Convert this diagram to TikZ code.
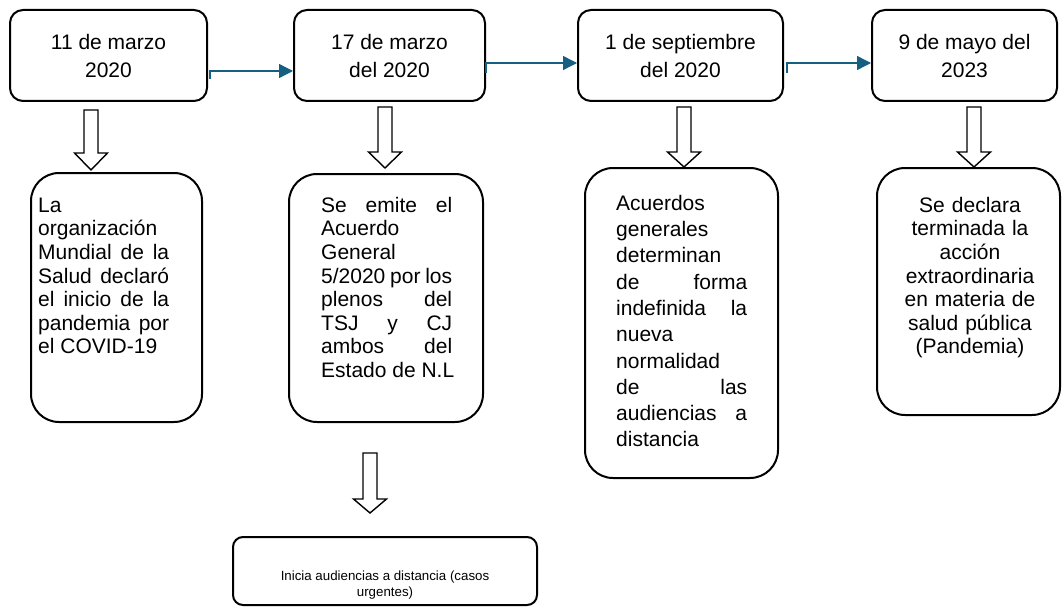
\documentclass[tikz,border=0pt]{standalone}
\usepackage{fontspec}
\setmainfont{Liberation Sans}
\usetikzlibrary{arrows.meta,calc}
\definecolor{linkblue}{HTML}{156082}
\newcommand\jl[1]{\makebox[131pt][s]{\spaceskip=0pt\xspaceskip=0pt\relax #1}}
\newcommand\hollowarrow[4]{\draw[hollow] (#1-7,#2) -- (#1+7,#2) -- (#1+7,#3) -- (#1+16.5,#3) -- (#1,#4) -- (#1-16.5,#3) -- (#1-7,#3) -- cycle;}
\begin{document}
\begin{tikzpicture}[x=1pt,y=-1pt,
  topbox/.style={draw, line width=2pt, rounded corners=13pt, minimum height=91pt, align=center, inner sep=0pt, font=\fontsize{21}{28}\selectfont},
  lowbox/.style={draw, line width=2pt, rounded corners=28pt, inner sep=0pt},
  hollow/.style={draw, line width=1.4pt, fill=white, line join=miter},
  conn/.style={draw=linkblue, line width=1.3pt, -{Triangle[length=14pt,width=14pt]}},
  bodytext/.style={anchor=north west, inner sep=0pt, text width=140pt, align=left, font=\fontsize{21}{23.6}\selectfont, execute at begin node={\spaceskip=0pt\xspaceskip=0pt\relax}}]
\useasboundingbox (0,0) rectangle (1062,607);

% top boxes
\node[topbox, minimum width=197pt] (t1) at (108.5,55.5) {11 de marzo\\2020};
\node[topbox, minimum width=191pt] (t2) at (389.5,55.5) {17 de marzo\\del 2020};
\node[topbox, minimum width=205pt] (t3) at (680.5,55.5) {1 de septiembre\\del 2020};
\node[topbox, minimum width=185pt] (t4) at (964.5,55.5) {9 de mayo del\\2023};

% connectors
\coordinate (s1) at (210,79);
\coordinate (s2) at (486,73);
\coordinate (s3) at (787,73);
\draw[conn] (s1) |- ([yshift=-15.5pt]t2.west);
\draw[conn] (s2) |- ([yshift=-7.5pt]t3.west);
\draw[conn] (s3) |- ([yshift=-7.5pt]t4.west);

% lower boxes
\node[lowbox, minimum width=171pt, minimum height=249pt] (b1) at (116.5,297.5) {};
\node[lowbox, minimum width=194pt, minimum height=248pt] (b2) at (386,298) {};
\node[lowbox, minimum width=193pt, minimum height=310pt] (b3) at (681.5,323) {};
\node[lowbox, minimum width=183pt, minimum height=247pt] (b4) at (968.5,291.5) {};
\node[draw, line width=2pt, rounded corners=10pt, minimum width=304pt, minimum height=68pt, inner sep=0pt] (b5) at (385,571) {};

% hollow arrows
\hollowarrow{91}{110}{153}{170}
\hollowarrow{385}{107}{152}{168}
\hollowarrow{684}{107}{152}{167}
\hollowarrow{974}{107}{152}{167}
\hollowarrow{370}{453}{499}{513}

% texts
\node[bodytext] (x1) at (38,195.5) {\strut La\\organización\\\jl{Mundial de la}\\\jl{Salud declaró}\\\jl{el inicio de la}\\\jl{pandemia por}\\el COVID-19};
\node[bodytext] (x2) at (321,195.5) {\strut\jl{Se emite el}\\Acuerdo\\General\\\jl{5/2020 por los}\\\jl{plenos del}\\\jl{TSJ y CJ}\\\jl{ambos del}\\Estado de N.L};
\node[bodytext, font=\fontsize{21}{26.3}\selectfont] (x3) at (616,191.6) {\strut Acuerdos\\generales\\determinan\\\jl{de forma}\\\jl{indefinida la}\\nueva\\normalidad\\\jl{de las}\\\jl{audiencias a}\\distancia};
\node[anchor=north, inner sep=0pt, text width=178pt, align=center, font=\fontsize{21}{23.6}\selectfont] (x4) at (970,195.5) {\strut Se declara\\terminada la\\acción\\extraordinaria\\en materia de\\salud pública\\(Pandemia)};
\node[anchor=north, inner sep=0pt, align=center, font=\fontsize{13.3}{16.5}\selectfont] (x5) at (385,568.5) {\strut Inicia audiencias a distancia (casos\\urgentes)};
\end{tikzpicture}
\end{document}
